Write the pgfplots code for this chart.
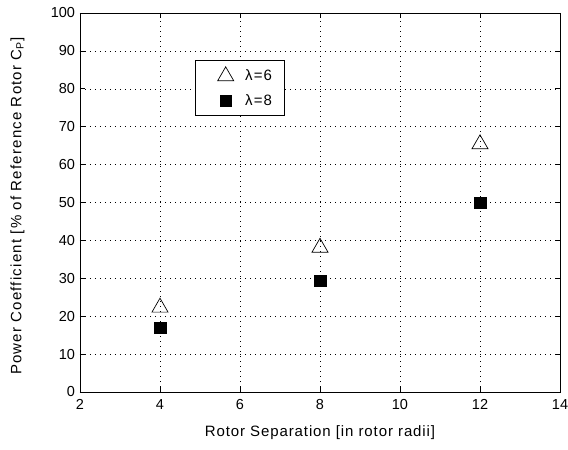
\documentclass[border=0pt]{standalone}
\usepackage{pgfplots}
\pgfplotsset{compat=1.18}
\usepackage{fontspec}
\setmainfont{Liberation Sans}
\newfontfamily\xlblfont[LetterSpace=6]{Liberation Sans}
\newfontfamily\ylblfont[LetterSpace=8]{Liberation Sans}
\newfontfamily\lgdfont[LetterSpace=8]{Liberation Sans}
\begin{document}
\begin{tikzpicture}
\useasboundingbox (-80pt,-58pt) rectangle (488pt,392pt);
\begin{axis}[
  scale only axis,
  width=480pt, height=379pt,
  xmin=2, xmax=14, ymin=0, ymax=100,
  xtick={2,4,...,14}, ytick={0,10,...,100},
  tick align=inside, tick pos=both,
  major tick length=5pt,
  grid=major,
  major grid style={dash pattern=on 1pt off 4pt, black, line width=0.5pt},
  axis line style={line width=0.7pt},
  every tick/.style={black, line width=0.6pt},
  /pgf/number format/assume math mode=true,
  tick label style={font=\fontsize{14.5}{16}\selectfont},
  xticklabel style={yshift=-4pt},
  yticklabel style={xshift=-1.5pt},
  xlabel={\xlblfont\fontsize{15}{17}\selectfont Rotor Separation [in rotor radii]},
  ylabel={\ylblfont\fontsize{15}{17}\selectfont Power Coefficient [\% of Reference Rotor C\textsubscript{P}]},
  xlabel style={at={(axis description cs:0.5,0)}, anchor=center, yshift=-40.5pt},
  ylabel style={at={(axis description cs:-0.130,0.49)}, anchor=center},
  legend style={at={(rel axis cs:0.2396,0.876)}, anchor=north west, draw=black, line width=0.7pt,
    font=\lgdfont\fontsize{15}{17}\selectfont, row sep=8.5pt, inner xsep=6pt, inner ysep=6.5pt},
  legend image code/.code={\path (0pt,0pt) (41pt,0pt); \draw[#1] plot coordinates {(24pt,0pt)};},
  legend cell align=left,
]
\addplot[only marks, mark=triangle, mark size=9.3pt, black, line width=0.7pt] coordinates {(4,22.3) (8,38.1) (12,65.4)};
\addlegendentry{\makebox[31pt][l]{λ=6}}
\addplot[only marks, mark=square*, mark size=5.7pt, black] coordinates {(4,17.0) (8,29.3) (12,49.9)};
\addlegendentry{\makebox[31pt][l]{λ=8}}
\end{axis}
\end{tikzpicture}
\end{document}
